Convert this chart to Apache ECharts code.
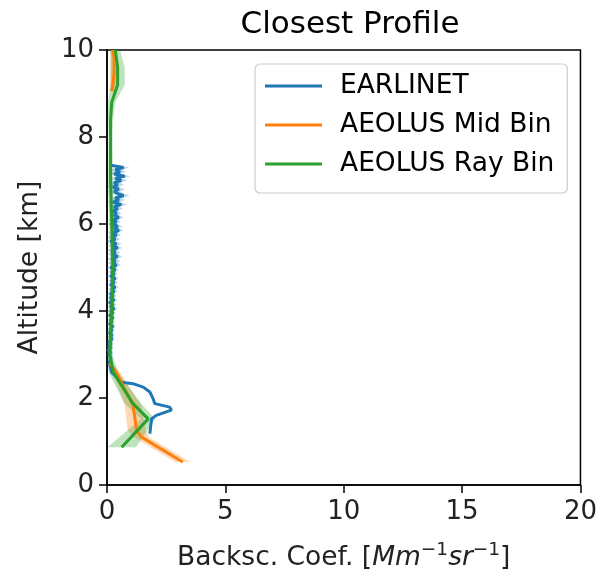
<!DOCTYPE html>
<html>
<head>
<meta charset="utf-8">
<script src="https://cdn.jsdelivr.net/npm/echarts@6/dist/echarts.min.js"></script>
<style>html,body{margin:0;padding:0;background:#fff}#c{width:600px;height:577px}</style>
</head>
<body>
<div id="c"></div>
<script>
// ---- data ----
const xTicks = [0, 5, 10, 15, 20];
const yTicks = [0, 2, 4, 6, 8, 10];

const earlinetAlt = [
  7.35,7.30,7.25,7.20,7.15,7.10,7.05,7.00,6.95,6.90,6.85,6.80,6.75,6.70,6.65,6.60,6.55,6.50,6.45,6.40,
  6.35,6.30,6.25,6.20,6.15,6.10,6.05,6.00,5.95,5.90,5.85,5.80,5.75,5.70,5.65,5.60,5.55,5.50,5.45,5.40,5.35,5.30,5.25,5.20,5.15,5.10,5.05,5.00,
  4.95,4.90,4.85,4.80,4.75,4.70,4.65,4.60,4.55,4.50,4.45,4.40,4.35,4.30,4.25,4.20,4.15,4.10,4.05,4.00,
  3.95,3.90,3.85,3.80,3.75,3.70,3.65,3.60,3.55,3.50,3.45,3.40,3.35,3.30,3.25,3.20,3.15,3.10,3.05,3.00,
  2.90,2.80,2.70,2.59,2.45,2.36,2.33,2.25,2.14,1.98,1.87,1.79,1.72,1.60,1.52,1.18];
const earlinetVal = [
  0.15,0.70,0.35,0.55,0.30,0.75,0.35,0.60,0.30,0.45,0.25,0.50,0.30,0.45,0.70,0.35,0.50,0.25,0.60,0.30,
  0.45,0.25,0.40,0.30,0.50,0.25,0.40,0.20,0.45,0.30,0.50,0.25,0.40,0.20,0.35,0.15,0.40,0.25,0.45,0.20,0.35,0.25,0.45,0.20,0.35,0.25,0.40,0.15,
  0.35,0.20,0.30,0.15,0.35,0.20,0.30,0.15,0.35,0.20,0.30,0.15,0.25,0.15,0.30,0.10,0.25,0.15,0.30,0.15,
  0.25,0.10,0.25,0.15,0.20,0.10,0.25,0.15,0.20,0.10,0.20,0.15,0.20,0.10,0.15,0.10,0.15,0.05,0.15,0.10,
  0.15,0.10,0.15,0.20,0.45,0.62,1.10,1.53,1.81,1.95,2.02,2.65,2.72,2.08,1.88,1.81];
const earlinetErr = [
  0.25,0.25,0.25,0.25,0.25,0.25,0.25,0.25,0.25,0.25,0.25,0.25,0.25,0.25,0.25,0.25,0.25,0.25,0.25,0.25,
  0.2,0.2,0.2,0.2,0.2,0.2,0.2,0.2,0.2,0.2,0.2,0.2,0.2,0.2,0.2,0.2,0.2,0.2,0.2,0.2,0.2,0.2,0.2,0.2,0.2,0.2,0.2,0.2,
  0.15,0.15,0.15,0.15,0.15,0.15,0.15,0.15,0.15,0.15,0.15,0.15,0.15,0.15,0.15,0.15,0.15,0.15,0.15,0.15,
  0.12,0.12,0.12,0.12,0.12,0.12,0.12,0.12,0.12,0.12,0.12,0.12,0.12,0.12,0.12,0.12,0.12,0.12,0.12,0.12,
  0.1,0.08,0.06,0.05,0.05,0.05,0.05,0.05,0.05,0.05,0.05,0.05,0.05,0.05,0.05,0.05];

// null = no valid retrieval (gap in profile)
const midAlt = [10.0,9.8,9.5,9.2,9.05,5.0,2.8,2.59,2.2,1.83,1.26,1.1,0.53];
const midVal = [0.25,0.3,0.3,0.25,0.2,null,0.1,0.4,0.75,1.1,1.25,1.46,3.2];
const midErr = [0.12,0.15,0.15,0.12,0.1,null,0.1,0.15,0.25,0.35,0.38,0.32,0.32];

const rayAlt = [10.0,9.6,9.2,8.8,8.4,8.0,7.0,6.0,5.0,4.0,3.0,2.59,1.87,1.52,0.87];
const rayVal = [0.35,0.45,0.45,0.2,0.15,0.15,0.15,0.2,0.25,0.2,0.12,0.27,1.1,1.74,0.62];
const rayErr = [0.2,0.3,0.3,0.15,0.1,0.08,0.1,0.1,0.12,0.1,0.1,0.2,0.35,0.3,0.6];

const names = ['EARLINET', 'AEOLUS Mid Bin', 'AEOLUS Ray Bin'];
const colors = ['#1f77b4', '#ff7f0e', '#2ca02c'];

// ---- build ----
const FONT = 'DejaVu Sans';
function pairs(vals, alts) { return vals.map((v, i) => [v == null ? '-' : v, alts[i]]); }
function band(name, alts, vals, errs, color, opacity) {
  const data = alts.map((a, i) => vals[i] == null ? ['-', '-', a] : [vals[i] - errs[i], vals[i] + errs[i], a]);
  // split into contiguous segments
  const segs = [];
  let cur = [];
  data.forEach(d => { if (d[0] === '-') { if (cur.length) segs.push(cur); cur = []; } else cur.push(d); });
  if (cur.length) segs.push(cur);
  return {
    type: 'custom', name: name + ' band', silent: true,
    data: data, encode: { x: [0, 1], y: 2 },
    renderItem: function (params, api) {
      if (params.dataIndex !== 0) return null;
      const children = segs.map(seg => {
        const pts = [];
        for (let i = 0; i < seg.length; i++) pts.push(api.coord([seg[i][0], seg[i][2]]));
        for (let i = seg.length - 1; i >= 0; i--) pts.push(api.coord([seg[i][1], seg[i][2]]));
        return { type: 'polygon', shape: { points: pts }, style: { fill: color, opacity: opacity } };
      });
      return { type: 'group', children: children };
    }
  };
}
function line(name, alts, vals, color) {
  return {
    type: 'line', name: name, data: pairs(vals, alts), showSymbol: false, symbol: 'none',
    connectNulls: false,
    lineStyle: { color: color, width: 3 }, itemStyle: { color: color }, animation: false
  };
}

const chart = echarts.init(document.getElementById('c'), null, { renderer: 'canvas' });
chart.setOption({
  animation: false,
  textStyle: { fontFamily: FONT },
  title: {
    text: 'Closest Profile', left: 345, top: 4, textAlign: 'center',
    textStyle: { fontFamily: FONT, fontSize: 31, fontWeight: 'normal', color: '#000' }
  },
  legend: {
    data: names, orient: 'vertical', left: 255, top: 64,
    icon: 'rect', itemWidth: 57, itemHeight: 3, itemGap: 9,
    padding: [7, 13, 14, 10],
    borderColor: '#cccccc', borderWidth: 1.2, borderRadius: 5, backgroundColor: '#fff',
    textStyle: { fontFamily: FONT, fontSize: 26.5, color: '#000', padding: [0, 0, 0, 13], lineHeight: 30 }
  },
  grid: { left: 107, right: 17, top: 50, bottom: 89, show: true, borderColor: '#000', borderWidth: 1.5, backgroundColor: 'transparent' },
  xAxis: {
    type: 'value', min: xTicks[0], max: xTicks[xTicks.length - 1], interval: 5,
    axisLine: { show: true, onZero: false, lineStyle: { color: '#000', width: 1.5 } },
    axisTick: { show: true, inside: false, length: 8, lineStyle: { color: '#000', width: 1.5 } },
    axisLabel: { color: '#222', fontSize: 26, margin: 14, fontFamily: FONT },
    splitLine: { show: false },
    name: '{n|Backsc. Coef. [}{i|Mm}{s|−1}{i|sr}{s|−1}{n|]}',
    nameLocation: 'middle', nameGap: 56,
    nameTextStyle: {
      color: '#222',
      rich: {
        n: { fontFamily: FONT, fontSize: 26.5, color: '#222', verticalAlign: 'bottom' },
        i: { fontFamily: FONT, fontSize: 26.5, fontStyle: 'italic', color: '#222', verticalAlign: 'bottom' },
        s: { fontFamily: FONT, fontSize: 18.5, color: '#222', verticalAlign: 'bottom', padding: [0, 0, 12, 0] }
      }
    }
  },
  yAxis: {
    type: 'value', min: yTicks[0], max: yTicks[yTicks.length - 1], interval: 2,
    axisLine: { show: true, onZero: false, lineStyle: { color: '#000', width: 1.5 } },
    axisTick: { show: true, inside: false, length: 8, lineStyle: { color: '#000', width: 1.5 } },
    axisLabel: { color: '#222', fontSize: 26, margin: 13, fontFamily: FONT },
    splitLine: { show: false },
    name: 'Altitude [km]', nameLocation: 'middle', nameGap: 63,
    nameTextStyle: { fontFamily: FONT, fontSize: 26.5, color: '#222' }
  },
  series: [
    band(names[0], earlinetAlt, earlinetVal, earlinetErr, colors[0], 0.3),
    line(names[0], earlinetAlt, earlinetVal, colors[0]),
    band(names[1], midAlt, midVal, midErr, colors[1], 0.3),
    line(names[1], midAlt, midVal, colors[1]),
    band(names[2], rayAlt, rayVal, rayErr, colors[2], 0.3),
    line(names[2], rayAlt, rayVal, colors[2])
  ]
});
</script>
</body>
</html>
